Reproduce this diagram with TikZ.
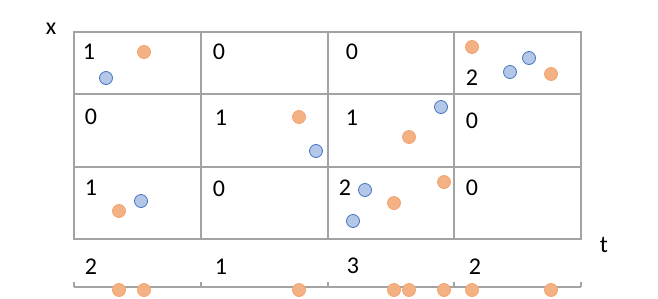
\documentclass[tikz,border=0pt]{standalone}
\usepackage{fontspec}
\setmainfont{Carlito}
\usetikzlibrary{positioning}
\definecolor{gridgray}{HTML}{A3A3A3}
\definecolor{bluefill}{HTML}{B4C7E7}
\definecolor{blueline}{HTML}{4472C4}
\definecolor{orangefill}{HTML}{F4B183}
\definecolor{orangeline}{HTML}{ED7D31}
\tikzset{
  gridline/.style={draw=gridgray, line width=1.5pt},
  cnt/.style={font=\fontsize{24}{28}\selectfont, inner sep=0pt},
  bdot/.style={circle, draw=blueline, fill=bluefill, line width=0.8pt, minimum size=13pt, inner sep=0pt},
  odot/.style={circle, draw=orangeline!70, fill=orangefill, line width=0.8pt, minimum size=13pt, inner sep=0pt}
}
\begin{document}
\begin{tikzpicture}[x=1pt,y=-1pt]
        \useasboundingbox (0,0) rectangle (658,298);
        % Grid
        \draw[gridline] (74,32) rectangle (581,239);
        \draw[gridline] (74,94) -- (581,94);
        \draw[gridline] (74,167) -- (581,167);
        \draw[gridline] (201,32) -- (201,239);
        \draw[gridline] (328,32) -- (328,239);
        \draw[gridline] (454,32) -- (454,239);
        
        % Axis labels
        \node[cnt] (xlab) at (51,29) {x};
        \node[cnt] (tlab) at (604,245) {t};
        
        % Time axis
        \draw[gridline] (74,287) -- (581,287);
        \draw[gridline] (74,282) -- (74,287);
        \draw[gridline] (201,282) -- (201,287);
        \draw[gridline] (328,282) -- (328,287);
        \draw[gridline] (454,282) -- (454,287);
        \draw[gridline] (581,282) -- (581,287);
        
        % Counts, row 1
        \node[cnt] (n11) at (89,52) {1};
        \node[cnt] (n12) at (219,52) {0};
        \node[cnt] (n13) at (352,52) {0};
        \node[cnt] (n14) at (472,78) {2};
        % Counts, row 2
        \node[cnt] (n21) at (91,117) {0};
        \node[cnt] (n22) at (221,118) {1};
        \node[cnt] (n23) at (352,118) {1};
        \node[cnt] (n24) at (472,121) {0};
        % Counts, row 3
        \node[cnt] (n31) at (91,188) {1};
        \node[cnt] (n32) at (219,189) {0};
        \node[cnt] (n33) at (345,188) {2};
        \node[cnt] (n34) at (472,188) {0};
        % Counts, time axis
        \node[cnt] (m1) at (91,267) {2};
        \node[cnt] (m2) at (221,267) {1};
        \node[cnt] (m3) at (353,266) {3};
        \node[cnt] (m4) at (475,267) {2};
        
        % Points
        \node[odot] (o1) at (144,52) {};
        \node[bdot] (b1) at (106,78) {};
        \node[odot] (o2) at (472,47) {};
        \node[bdot] (b2) at (529,58) {};
        \node[bdot] (b3) at (510,72) {};
        \node[odot] (o3) at (551,74) {};
        \node[odot] (o4) at (299,117) {};
        \node[bdot] (b4) at (316,151) {};
        \node[bdot] (b5) at (441,107) {};
        \node[odot] (o5) at (409,137) {};
        \node[bdot] (b6) at (141,201) {};
        \node[odot] (o6) at (119,211) {};
        \node[bdot] (b7) at (365,190) {};
        \node[bdot] (b8) at (353,221) {};
        \node[odot] (o7) at (394,203) {};
        \node[odot] (o8) at (444,182) {};
        
        % Projected points
        \node[odot] (p1) at (119,290) {};
        \node[odot] (p2) at (144,290) {};
        \node[odot] (p3) at (299,290) {};
        \node[odot] (p4) at (394,290) {};
        \node[odot] (p5) at (409,290) {};
        \node[odot] (p6) at (444,290) {};
        \node[odot] (p7) at (472,290) {};
        \node[odot] (p8) at (551,290) {};
    \end{tikzpicture}
\end{document}
